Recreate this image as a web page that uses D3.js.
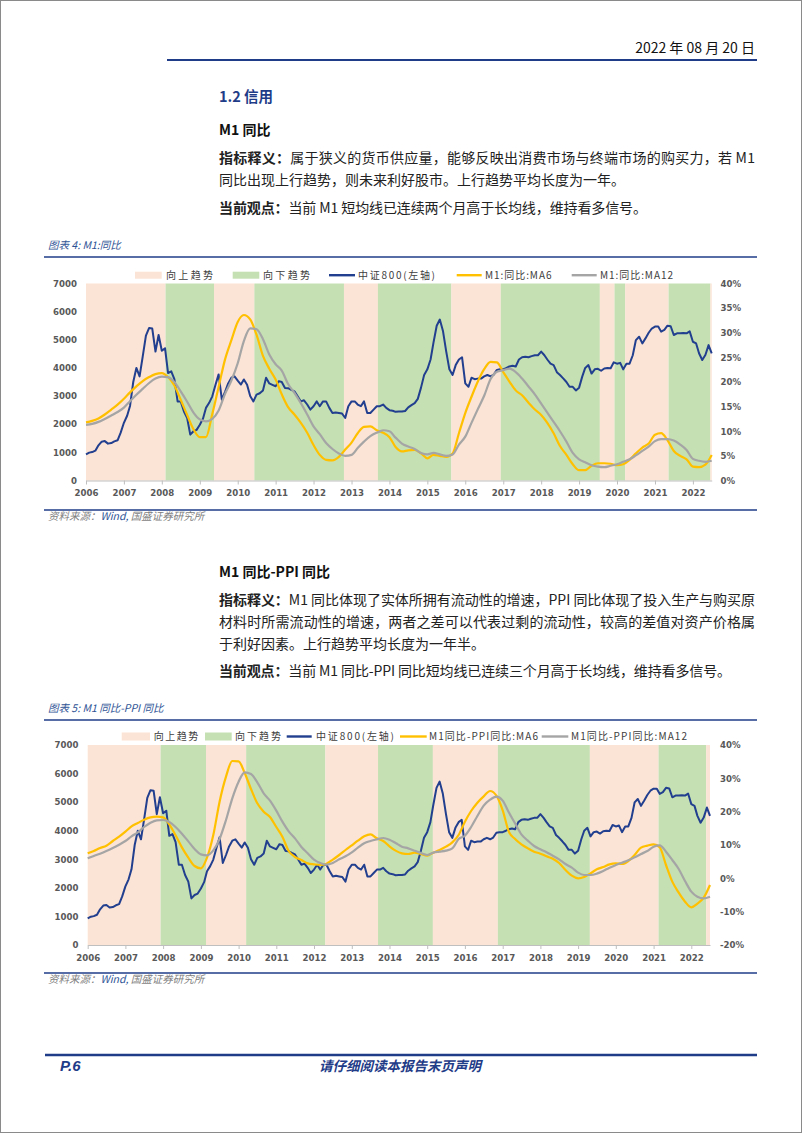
<!DOCTYPE html>
<html><head><meta charset="utf-8">
<script src="https://cdn.jsdelivr.net/npm/d3@7/dist/d3.min.js"></script>
<style>
body{margin:0;background:#fff;}
svg{display:block;}
</style></head>
<body><svg id="page" width="802" height="1133"></svg>
<script>
// ---------------- DATA ----------------
const years = ['2006','2007','2008','2009','2010','2011','2012','2013','2014','2015','2016','2017','2018','2019','2020','2021','2022'];
const leftTicks = [0,1000,2000,3000,4000,5000,6000,7000];
const rightTicks1 = [0,5,10,15,20,25,30,35,40];
const rightTicks2 = [-20,-10,0,10,20,30,40];

// 中证800 monthly, 2006-01 .. 2022-07
const csi800 = [
 930, 990,1010,1060,1250,1380,1400,1310,1330,1390,1430,1700,
 2050,2300,2650,3500,4000,3700,4400,5150,5420,5400,4580,5170,
 4610,4700,3820,3880,3600,2810,2810,2450,2220,1630,1750,1800,
 1980,2200,2580,2760,2990,3400,3770,2870,3150,3450,3650,3700,
 3550,3410,3590,3400,3000,2810,3050,3100,3200,3650,3450,3400,
 3350,3530,3500,3290,3280,3220,3170,2990,2810,2850,2700,2520,
 2640,2810,2640,2810,2810,2580,2400,2420,2400,2380,2220,2640,
 2810,2810,2700,2640,2810,2400,2400,2520,2640,2640,2700,2580,
 2500,2480,2440,2450,2450,2470,2600,2680,2750,2900,3300,3750,
 3950,4300,4900,5500,5720,5300,4600,3950,3750,4100,4300,4380,
 3450,3330,3650,3600,3620,3620,3700,3750,3700,3760,3930,3950,
 3950,4000,4050,4080,4050,4300,4380,4400,4380,4420,4450,4450,
 4580,4450,4300,4150,4100,3850,3750,3630,3500,3330,3330,3200,
 3300,3700,4000,4100,3800,3950,3970,3900,3980,4000,3990,4200,
 4150,4180,3950,4150,4150,4450,4990,5110,4870,5050,5250,5400,
 5470,5470,5290,5350,5500,5480,5170,5230,5230,5240,5230,5300,
 4930,4870,4520,4280,4460,4810,4520
];

// every second month (2006-01, 2006-03, ... 2022-07), in %
const m1Ma6 = [
 11.8,12.1,12.6,13.4,14.4,15.4,16.6,17.9,19.1,20.2,21.0,21.6,
 21.8,21.0,19.3,16.4,13.3,10.4,8.8,8.8,13.5,19.0,24.6,28.5,
 32.2,33.6,32.7,29.6,25.3,22.7,20.5,17.5,14.9,13.4,11.7,9.7,
 7.2,5.2,4.2,4.1,4.8,6.3,7.7,9.6,10.9,11.0,10.2,9.7,
 8.8,6.8,5.9,6.1,6.2,5.5,4.5,5.2,5.0,4.8,5.5,9.6,
 13.7,17.0,20.1,22.6,24.1,24.0,22.0,20.1,18.3,17.3,15.8,14.4,
 13.3,11.7,9.6,7.0,5.2,3.3,2.1,2.1,3.0,3.5,3.5,3.4,
 3.1,3.3,4.2,5.5,6.7,7.5,9.3,9.6,8.2,6.0,5.0,4.3,
 2.8,2.7,3.2,5.2
];
const m1Ma12 = [
 11.3,11.5,11.9,12.5,13.2,13.9,14.8,16.1,17.4,18.6,19.8,20.7,
 21.1,21.0,20.0,18.1,16.0,13.8,12.4,12.0,12.5,14.2,17.6,20.3,
 23.8,28.3,30.9,30.7,28.7,25.6,23.6,22.3,19.6,17.8,15.7,13.4,
 11.0,9.4,7.6,6.4,5.5,5.0,5.2,6.6,7.9,9.0,9.7,10.2,
 10.0,8.7,7.5,6.9,6.4,5.6,5.3,5.6,5.3,5.0,5.3,7.3,
 8.9,11.7,14.5,17.2,20.6,22.1,22.4,22.7,22.0,20.7,19.1,17.5,
 15.6,13.8,11.9,10.0,7.9,5.6,4.3,3.7,3.1,2.8,2.7,3.0,
 3.3,3.8,4.3,5.1,6.0,6.9,8.0,8.4,8.4,8.1,7.3,6.2,
 4.4,4.0,3.8,4.0
];
const diffMa6 = [
 7.5,8.2,9.1,9.8,11.2,12.5,14.0,15.6,16.6,17.6,18.3,18.5,
 18.3,16.2,12.9,9.3,6.2,3.7,3.0,6.2,13.0,23.0,30.5,35.2,
 35.1,31.6,26.8,22.5,20.0,18.4,15.4,12.5,8.2,6.4,5.5,4.5,
 4.2,4.0,4.4,5.6,7.0,8.5,9.9,11.3,12.6,13.2,12.0,11.2,
 9.6,8.3,7.5,7.3,7.7,7.3,6.8,7.7,8.5,9.5,10.8,13.0,
 17.0,20.2,22.7,24.6,26.2,24.8,20.4,14.0,11.8,10.2,9.0,8.0,
 7.4,6.6,5.9,4.6,2.5,0.8,0.0,0.4,1.5,2.7,3.4,4.2,
 4.5,4.3,5.2,7.0,9.2,9.8,10.2,9.3,4.0,-1.0,-4.3,-7.0,
 -8.7,-7.6,-5.8,-2.0
];
const diffMa12 = [
 6.0,6.7,7.4,8.2,9.1,10.1,11.2,12.6,13.8,15.4,16.7,17.4,
 17.5,16.9,15.4,13.4,11.1,8.8,7.2,6.9,8.4,11.8,17.5,24.0,
 29.0,31.8,31.3,28.8,25.5,23.3,20.3,17.0,14.1,12.0,9.4,7.5,
 5.6,4.6,4.1,4.6,5.7,6.6,7.8,9.2,10.5,11.2,11.7,12.1,
 11.6,10.6,9.5,9.0,8.3,7.6,7.0,7.7,8.0,8.3,9.0,11.8,
 12.8,15.4,18.7,21.8,23.6,24.5,23.3,19.8,16.5,13.2,11.3,9.7,
 8.7,7.8,6.8,5.7,4.3,3.2,1.7,1.0,1.0,1.4,2.2,3.2,
 4.0,4.7,5.4,6.3,7.3,8.2,9.5,9.9,8.0,5.5,2.8,-0.8,
 -4.0,-5.5,-6.0,-5.5
];

// trend band boundaries (first band is 向上趋势, then alternating)
const bands1 = ['2008-02-06','2009-05-18','2010-06-10','2012-10-20','2013-09-12','2015-08-20','2016-12-08','2019-07-20','2019-12-08','2020-03-20','2021-05-12','2022-06-18'];
const bands2 = ['2007-12-08','2009-02-20','2010-03-15','2012-04-20','2013-09-12','2015-02-25','2016-11-15','2019-04-25','2021-02-18','2022-05-25'];

const legend1 = ['向上趋势','向下趋势','中证800(左轴)','M1:同比:MA6','M1:同比:MA12'];
const legend2 = ['向上趋势','向下趋势','中证800(左轴)','M1同比-PPI同比:MA6','M1同比-PPI同比:MA12'];

// ---------------- RENDER ----------------
const W=802,H=1133;
const PINK='#FBE3D5', GREEN='#C5E0B3', BLUE='#213F8E', GOLD='#FFC000', GREY='#A5A5A5', RULE='#1F3C88';
const CJK="'Noto Sans CJK SC','Noto Sans',sans-serif";
const AX="'DejaVu Sans',Verdana,sans-serif";
const svg=d3.select('#page');
svg.append('rect').attr('x',0.5).attr('y',0.5).attr('width',W-1).attr('height',H-1)
  .attr('fill','#fff').attr('stroke','#8a8a8a').attr('stroke-width',1);

const parse=d3.timeParse('%Y-%m-%d');
const months=d3.timeMonth.range(new Date(2006,0,1), new Date(2022,7,1));
const bimonths=months.filter((d,i)=>i%2===0);

function txt(x,y,parts,o={}){
  const t=svg.append('text').attr('x',x).attr('y',y)
    .attr('font-family',o.family||CJK).attr('font-size',o.size||14)
    .attr('fill',o.fill||'#222').attr('text-anchor',o.anchor||'start');
  if(o.italic) t.attr('font-style','italic');
  if(o.weight) t.attr('font-weight',o.weight);
  if(o.ls) t.attr('letter-spacing',o.ls);
  parts.forEach(p=>{
    const s=t.append('tspan').text(p.t);
    if(p.b) s.attr('font-weight',700);
    if(p.fill) s.attr('fill',p.fill);
  });
  if(o.len) t.attr('textLength',o.len).attr('lengthAdjust','spacing');
  return t;
}
function rule(x1,x2,y,w){
  svg.append('line').attr('x1',x1).attr('x2',x2).attr('y1',y).attr('y2',y)
    .attr('stroke',RULE).attr('stroke-width',w);
}

// header
txt(755,53,[{t:'2022 年 08 月 20 日'}],{anchor:'end',size:14,fill:'#111'});
rule(167,757,60,2.2);

// section 1 text
txt(219,102,[{t:'1.2 信用'}],{size:14.5,weight:700,fill:RULE});
txt(219,135,[{t:'M1 同比'}],{size:14,weight:700,fill:'#111'});
txt(219,163,[{t:'指标释义：',b:1},{t:'属于狭义的货币供应量，能够反映出消费市场与终端市场的购买力，若 M1'}],{len:536});
txt(219,185,[{t:'同比出现上行趋势，则未来利好股市。上行趋势平均长度为一年。'}]);
txt(219,213,[{t:'当前观点：',b:1},{t:'当前 M1 短均线已连续两个月高于长均线，维持看多信号。'}],{len:428});

// section 2 text
txt(219,577,[{t:'M1 同比-PPI 同比'}],{size:14,weight:700,fill:'#111'});
txt(219,605,[{t:'指标释义：',b:1},{t:'M1 同比体现了实体所拥有流动性的增速，PPI 同比体现了投入生产与购买原'}],{len:536});
txt(219,627,[{t:'材料时所需流动性的增速，两者之差可以代表过剩的流动性，较高的差值对资产价格属'}],{len:536});
txt(219,649,[{t:'于利好因素。上行趋势平均长度为一年半。'}]);
txt(219,676,[{t:'当前观点：',b:1},{t:'当前 M1 同比-PPI 同比短均线已连续三个月高于长均线，维持看多信号。'}],{len:512});

// footer
rule(45,757,1055,2.4);
txt(60,1071,[{t:'P.6'}],{family:"'Liberation Sans',Arial,sans-serif",size:15,weight:700,italic:1,fill:RULE});
txt(400,1071,[{t:'请仔细阅读本报告末页声明'}],{size:13.5,weight:700,italic:1,fill:RULE,anchor:'middle'});

function drawChart(c){
  // title + rules
  txt(48,c.titleY,[{t:c.title}],{size:10.5,italic:1,fill:'#2F5496'});
  rule(44,757,c.ruleTop,1.6);
  rule(44,757,c.ruleBot,1.6);
  txt(48,c.srcY,[{t:'资料来源：',fill:'#7F7F7F'},{t:'Wind, ',fill:'#2F5496'},{t:'国盛证券研究所',fill:'#7F7F7F'}],{size:10.5,italic:1});

  const g=svg.append('g');
  const x=d3.scaleTime().domain([months[0],months[months.length-1]]).range([c.x0,c.x1]);
  const yL=d3.scaleLinear().domain([0,7000]).range([c.yb,c.yt]);
  const yR=d3.scaleLinear().domain(c.rDomain).range([c.yb,c.yt]);

  // bands
  const edges=[months[0],...c.bands.map(parse),months[months.length-1]];
  for(let i=0;i<edges.length-1;i++){
    g.append('rect').attr('x',x(edges[i])).attr('y',c.yt)
      .attr('width',x(edges[i+1])-x(edges[i])).attr('height',c.yb-c.yt)
      .attr('fill',i%2===0?PINK:GREEN);
  }

  // axes
  const styleAxis=a=>{
    a.selectAll('text').attr('font-family',AX).attr('font-size',8.6).attr('font-weight',700).attr('fill','#595959');
  };
  const la=g.append('g').attr('transform',`translate(${c.x0},0)`)
    .call(d3.axisLeft(yL).tickValues(leftTicks).tickSize(0).tickPadding(c.x0-c.leftX).tickFormat(d3.format('d')));
  la.select('.domain').remove(); styleAxis(la);
  const ra=g.append('g').attr('transform',`translate(${c.x1},0)`)
    .call(d3.axisRight(yR).tickValues(c.rTicks).tickSize(0).tickPadding(c.rightX-c.x1).tickFormat(d=>d+'%'));
  ra.select('.domain').remove(); styleAxis(ra);
  const ba=g.append('g').attr('transform',`translate(0,${c.yb})`)
    .call(d3.axisBottom(x).tickValues(years.map(y=>new Date(+y,0,1))).tickSize(4).tickSizeOuter(0)
      .tickFormat((d,i)=>years[i]));
  ba.select('.domain').attr('stroke','#BFBFBF');
  ba.selectAll('line').attr('stroke','#BFBFBF');
  ba.selectAll('text').attr('y',c.xLabOff).attr('dy','0.35em');
  styleAxis(ba);

  // lines
  const lineL=d3.line().x((d,i)=>x(months[i])).y(d=>yL(d));
  g.append('path').datum(csi800).attr('d',lineL).attr('fill','none')
    .attr('stroke',BLUE).attr('stroke-width',2).attr('stroke-linejoin','round');
  const lineR=d3.line().x((d,i)=>x(bimonths[i])).y(d=>yR(d)).curve(d3.curveMonotoneX);
  g.append('path').datum(c.ma6).attr('d',lineR).attr('fill','none')
    .attr('stroke',GOLD).attr('stroke-width',2.2);
  g.append('path').datum(c.ma12).attr('d',lineR).attr('fill','none')
    .attr('stroke',GREY).attr('stroke-width',2.2);

  // legend
  const L=c.leg, ly=L.y;
  const kinds=[['rect',PINK],['rect',GREEN],['line',BLUE],['line',GOLD],['line',GREY]];
  kinds.forEach((k,i)=>{
    const it=L.items[i];
    if(k[0]==='rect'){
      g.append('rect').attr('x',it[0]).attr('y',ly-L.h/2).attr('width',it[1]-it[0]).attr('height',L.h).attr('fill',k[1]);
    } else {
      g.append('line').attr('x1',it[0]).attr('x2',it[1]).attr('y1',ly).attr('y2',ly).attr('stroke',k[1]).attr('stroke-width',2.4);
    }
    txt(it[2],ly+3.6,[{t:c.legend[i]}],{size:10,fill:'#404040',len:it[3]});
  });
}

drawChart({
  title:'图表 4: M1:同比', titleY:249, ruleTop:257, ruleBot:510, srcY:520,
  x0:86, x1:711.7, yt:283.5, yb:480.5, leftX:77, rightX:720.5, xLabOff:12.8,
  rDomain:[0,40], rTicks:rightTicks1, bands:bands1, ma6:m1Ma6, ma12:m1Ma12, legend:legend1,
  leg:{y:275.2,h:7,items:[[135,161.7,166,47],[232.7,259.3,263,47],[329,355,358,77],[456.7,481.7,485,66.5],[571.7,596.7,600,73]]}
});
drawChart({
  title:'图表 5: M1 同比-PPI 同比', titleY:712, ruleTop:720, ruleBot:973, srcY:983,
  x0:87.7, x1:710, yt:745, yb:945, leftX:78.5, rightX:720, xLabOff:12.7,
  rDomain:[-20,40], rTicks:rightTicks2, bands:bands2, ma6:diffMa6, ma12:diffMa12, legend:legend2,
  leg:{y:736.5,h:8,items:[[121.7,150,153.7,44.6],[205,231.7,235,46],[286.7,311.7,316,78],[400,426.7,429,109],[541.7,568.3,571,116]]}
});
</script>
</body></html>
